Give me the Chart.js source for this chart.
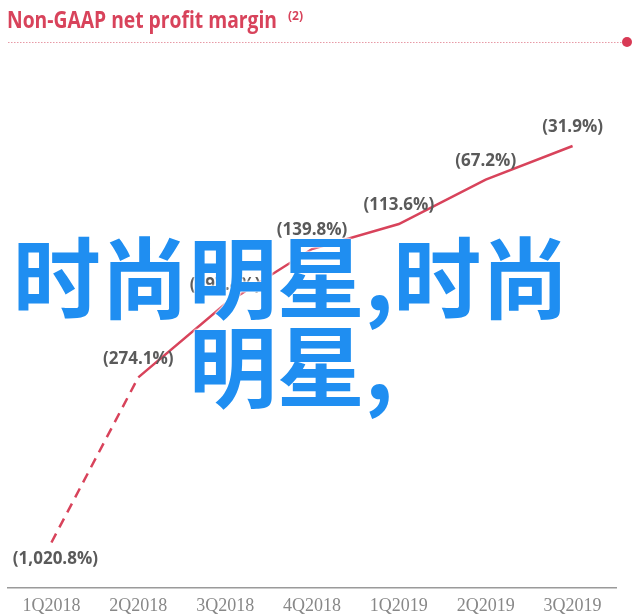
<!DOCTYPE html>
<html>
<head>
<meta charset="utf-8">
<script src="https://cdn.jsdelivr.net/npm/chart.js@4/dist/chart.umd.min.js"></script>
<style>
  html, body { margin: 0; padding: 0; background: #fff; }
  #wrap { position: relative; width: 640px; height: 616px; }
  #overlay {
    position: absolute;
    left: 0;
    top: 228px;
    width: 582px;
    text-align: center;
    font-family: 'Noto Sans CJK SC', sans-serif;
    font-size: 88px;
    line-height: 89px;
    font-weight: 700;
    color: #1f8ef1;
    text-shadow: 0 0 2px #fff, 0 0 2px #fff, 0 0 3px #fff;
    pointer-events: none;
  }
</style>
</head>
<body>
<div id="wrap">
  <canvas id="marginChart" width="640" height="616"></canvas>
  <div id="overlay">时尚明星,时尚明星,</div>
</div>
<script>
const titleText = 'Non-GAAP net profit margin';
const titleNote = '(2)';
const quarters = ['1Q2018', '2Q2018', '3Q2018', '4Q2018', '1Q2019', '2Q2019', '3Q2019'];
// reported non-GAAP net margin, %
const margin = [-1020.8, -274.1, -197.4, -139.8, -113.6, -67.2, -31.9];
// where each point sits on the chart: the axis is broken below 2Q2018,
// so 1Q2018 is drawn at the break instead of at its real value
const plotMargin = [-447, -274.1, -197.4, -139.8, -113.6, -67.2, -31.9];

const RED = '#d8435b';

function fmtMargin(v) {
  return '(' + Math.abs(v).toLocaleString('en-US', { minimumFractionDigits: 1, maximumFractionDigits: 1 }) + '%)';
}

const titlePlugin = {
  id: 'slideTitle',
  beforeDraw(chart) {
    const ctx = chart.ctx;
    ctx.save();
    ctx.fillStyle = RED;
    ctx.textBaseline = 'alphabetic';
    ctx.font = "bold 24px 'Open Sans'";
    ctx.fillText(titleText, 7, 28, 270);
    ctx.font = "bold 12px 'Open Sans'";
    ctx.fillText(titleNote, 288, 20);
    // dotted rule under the title
    ctx.strokeStyle = '#e79aa6';
    ctx.lineWidth = 1.2;
    ctx.setLineDash([1.5, 1.5]);
    ctx.beginPath();
    ctx.moveTo(8, 42.5);
    ctx.lineTo(624, 42.5);
    ctx.stroke();
    ctx.setLineDash([]);
    ctx.fillStyle = '#d83a55';
    ctx.beginPath();
    ctx.arc(627, 42, 5, 0, Math.PI * 2);
    ctx.fill();
    ctx.restore();
  }
};

const valueLabels = {
  id: 'valueLabels',
  afterDatasetsDraw(chart) {
    const ctx = chart.ctx;
    const meta = chart.getDatasetMeta(0);
    ctx.save();
    ctx.font = "bold 17px 'Open Sans'";
    ctx.fillStyle = '#5a5a5a';
    ctx.textAlign = 'center';
    meta.data.forEach((pt, i) => {
      if (i === 0) {
        ctx.textBaseline = 'top';
        ctx.fillText(fmtMargin(margin[i]), pt.x + 4, pt.y + 8);
      } else {
        ctx.textBaseline = 'bottom';
        ctx.fillText(fmtMargin(margin[i]), pt.x, pt.y - 10);
      }
    });
    ctx.restore();
  }
};

new Chart(document.getElementById('marginChart'), {
  type: 'line',
  data: {
    labels: quarters,
    datasets: [{
      data: plotMargin,
      borderColor: RED,
      borderWidth: 2.5,
      pointRadius: 0,
      tension: 0,
      fill: false,
      segment: {
        borderDash: ctx => ctx.p0DataIndex === 0 ? [10, 7] : undefined
      }
    }]
  },
  options: {
    responsive: false,
    animation: false,
    layout: { padding: { top: 62, left: 8, right: 24, bottom: -1 } },
    plugins: {
      legend: { display: false },
      tooltip: { enabled: false }
    },
    scales: {
      x: {
        offset: true,
        grid: { display: false },
        border: { color: '#9a9a9a', width: 1.5 },
        ticks: {
          color: '#888',
          padding: 0,
          font: { family: "'Liberation Serif'", size: 18 }
        }
      },
      y: {
        display: false,
        min: -494,
        max: 56
      }
    }
  },
  plugins: [titlePlugin, valueLabels]
});
</script>
</body>
</html>
